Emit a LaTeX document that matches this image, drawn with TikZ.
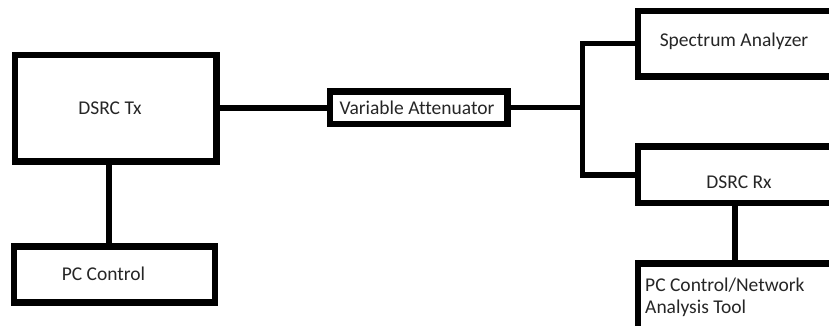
\documentclass[tikz,border=0pt]{standalone}
\usepackage{fontspec}
\setmainfont{Carlito}[Ligatures=CommonOff]
\begin{document}
\begin{tikzpicture}[x=1pt,y=-1pt,
  box/.style={draw=black,line width=6.5pt,fill=white,inner sep=0pt,rectangle},
  conn/.style={draw=black,line width=5.5pt},
  lbl/.style={inner sep=0pt,font=\fontsize{19.5}{22}\selectfont,text=black!85}]
\useasboundingbox (0,0) rectangle (829,326);
\clip (0,0) rectangle (829,326);
\fill[white] (0,0) rectangle (829,326);
% boxes
\node[box,minimum width=201.5pt,minimum height=106.5pt] (tx) at (115.75,108.25) {};
\node[box,minimum width=201pt,minimum height=56pt] (pc) at (114.5,274.5) {};
\node[box,minimum width=177.5pt,minimum height=32.5pt] (att) at (418.75,107.75) {};
\node[box,minimum width=207pt,minimum height=65.5pt] (sa) at (741.5,43.75) {};
\node[box,minimum width=207pt,minimum height=56.5pt] (rx) at (741.5,174.75) {};
\node[box,minimum width=207pt,minimum height=81.5pt] (net) at (741.5,304.25) {};
\coordinate (j) at (582.5,107.75);
% connectors
\draw[conn] ([xshift=-6.75pt]tx.south) -- ([xshift=-5.5pt]pc.north);
\draw[conn] (tx.east) -- (tx.east -| att.west);
\draw[conn] (att.east) -- (j);
\draw[conn] (sa.west) -| (j) |- (rx.west);
\draw[conn] ([xshift=-6.5pt]rx.south) -- ([xshift=-6.5pt]net.north);
% labels
\node[lbl] (ttx) at (110,108) {DSRC Tx};
\node[lbl] (tpc) at (103.5,274) {PC Control};
\node[lbl] (tatt) at (417,108) {Variable Attenuator};
\node[lbl] (tsa) at (734,41) {Spectrum Analyzer};
\node[lbl] (trx) at (739,182) {DSRC Rx};
\node[lbl,anchor=base west,align=left] (tnet) at (645,313) {PC Control/Network\\Analysis Tool};
\end{tikzpicture}
\end{document}
